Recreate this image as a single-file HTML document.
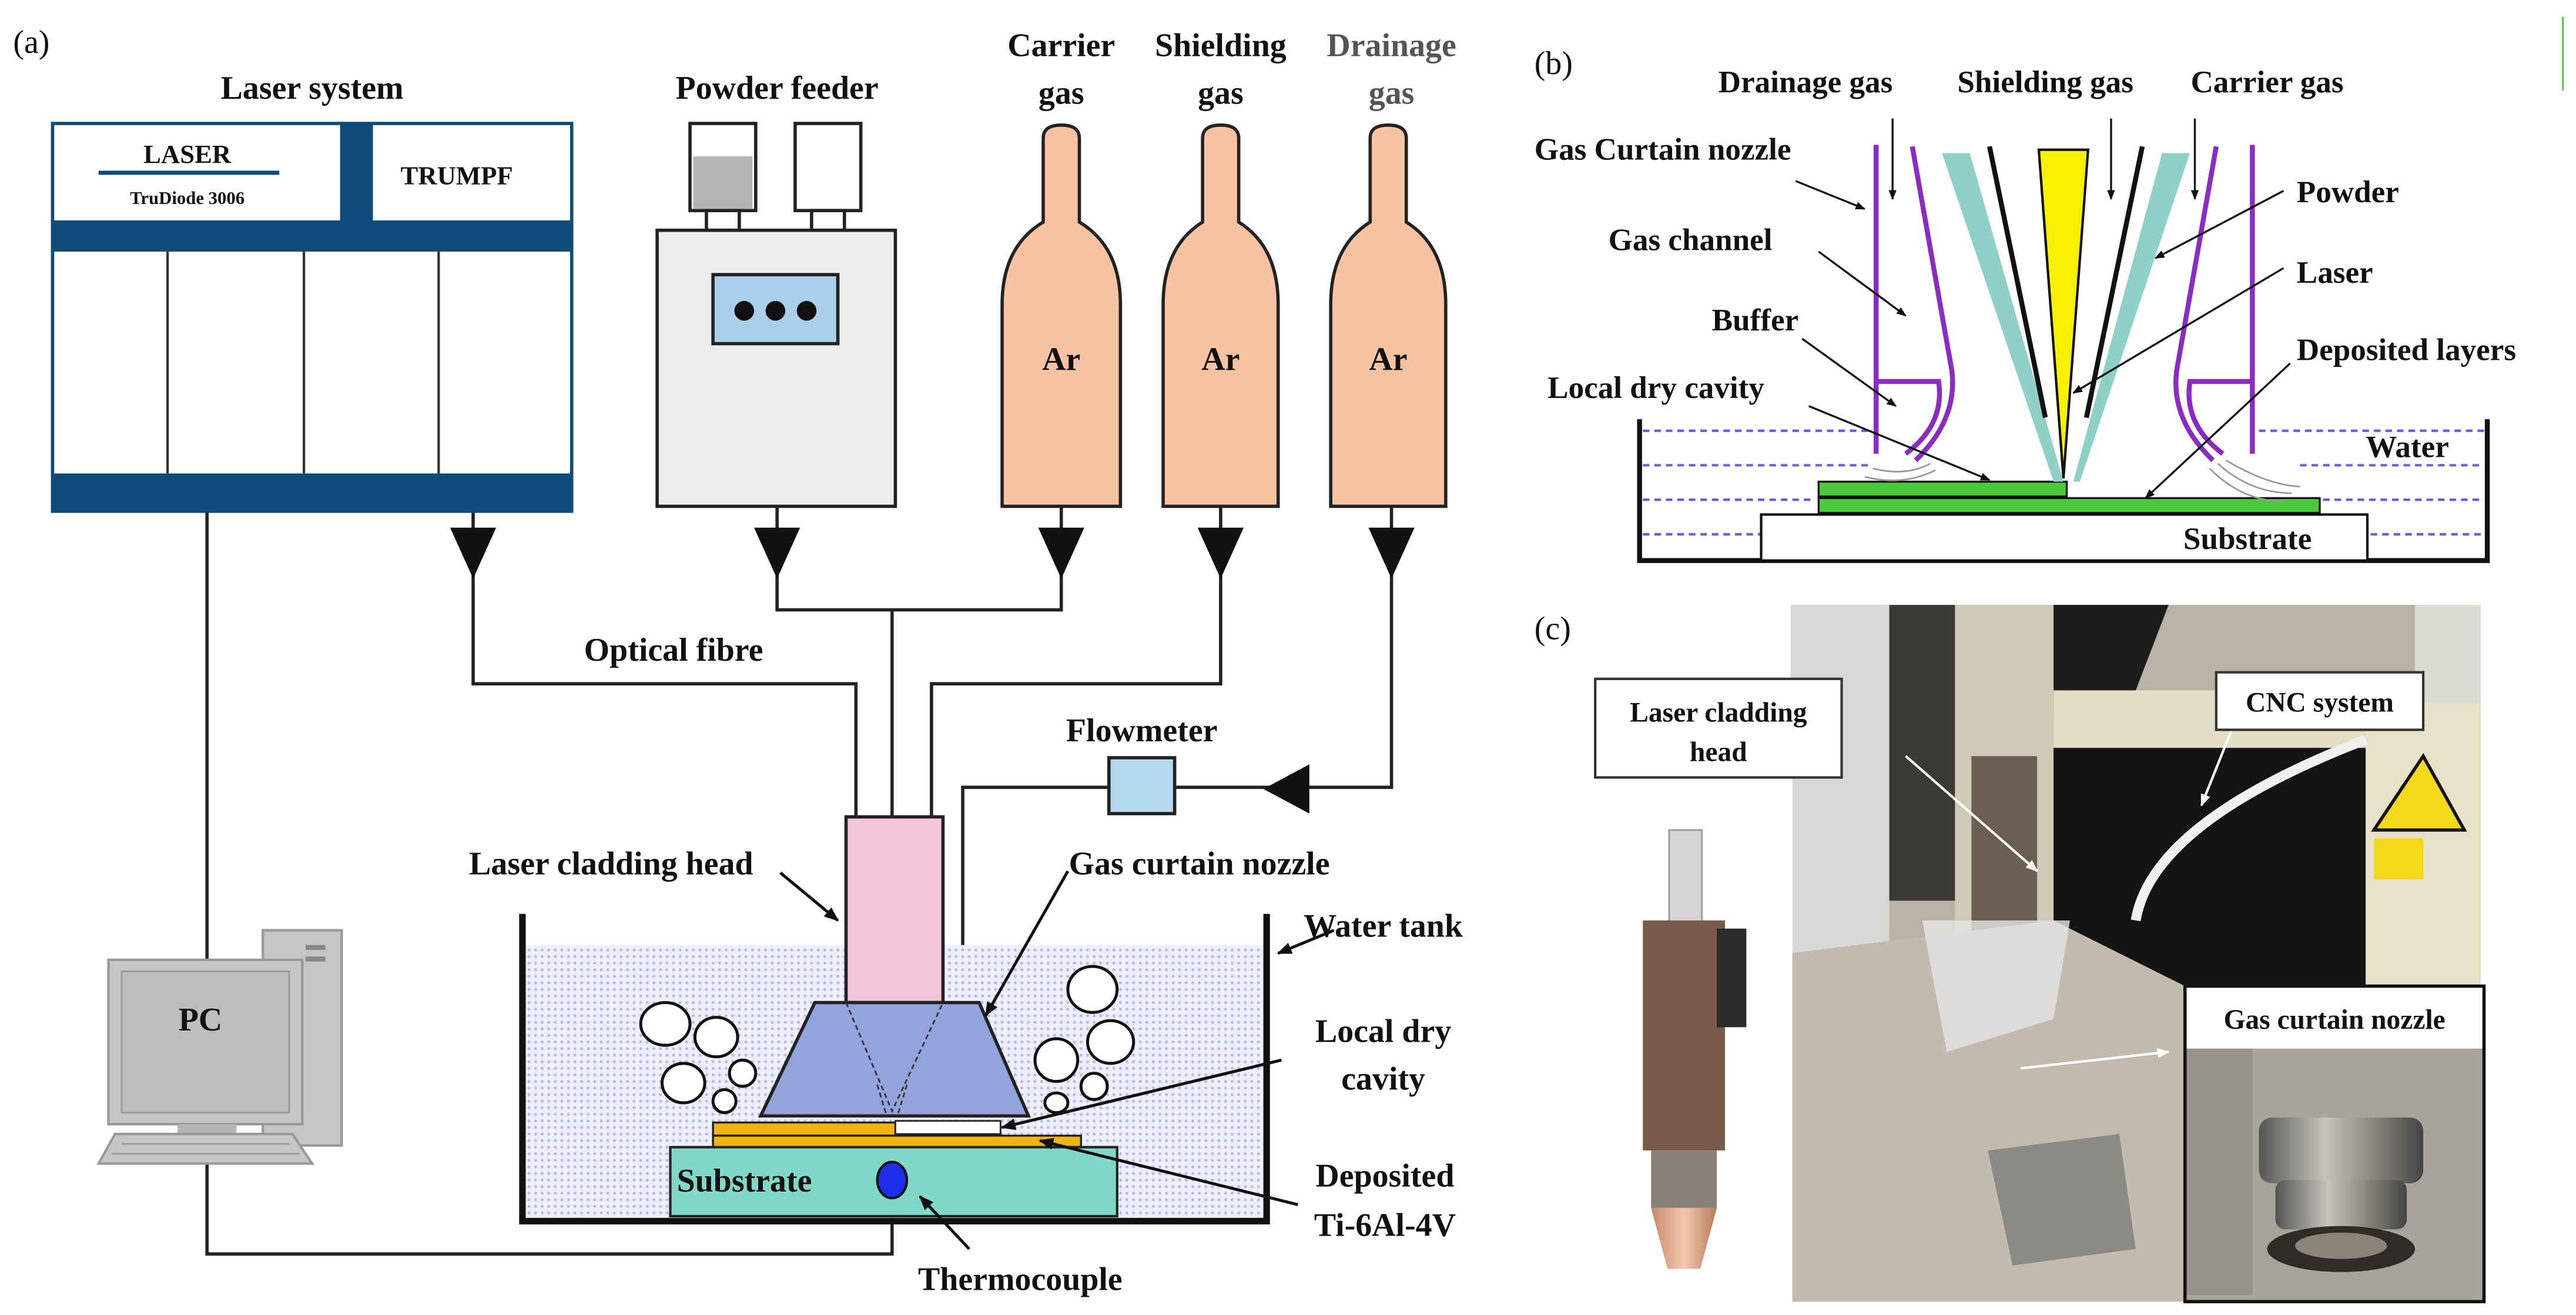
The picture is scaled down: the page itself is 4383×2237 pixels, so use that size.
<!DOCTYPE html>
<html><head><meta charset="utf-8"><style>
html,body{margin:0;padding:0;background:#fff;}
svg{display:block;}
text{font-family:"Liberation Serif",serif;font-weight:bold;fill:#111;}
</style></head><body>
<svg width="4383" height="2237" viewBox="0 0 1568 800" xmlns="http://www.w3.org/2000/svg">
<defs>
<pattern id="wd" width="4" height="4" patternUnits="userSpaceOnUse"><rect width="4" height="4" fill="#eeeefc"/><circle cx="2" cy="2" r="0.9" fill="#b8b8ee"/></pattern>
<marker id="ah" viewBox="0 0 10 10" refX="9" refY="5" markerWidth="5" markerHeight="5" orient="auto"><path d="M0,1 L10,5 L0,9 z" fill="#111"/></marker>
<marker id="aw" viewBox="0 0 10 10" refX="9" refY="5" markerWidth="5" markerHeight="5" orient="auto"><path d="M0,1 L10,5 L0,9 z" fill="#fff"/></marker>
<linearGradient id="cu" x1="0" x2="1"><stop offset="0" stop-color="#c98a6a"/><stop offset="0.5" stop-color="#f3c8b0"/><stop offset="1" stop-color="#b87a5a"/></linearGradient>
<linearGradient id="met" x1="0" x2="1"><stop offset="0" stop-color="#555"/><stop offset="0.4" stop-color="#c8c4bc"/><stop offset="0.7" stop-color="#8a867e"/><stop offset="1" stop-color="#444"/></linearGradient>
</defs>

<!-- ===== PANEL A ===== -->
<text x="8" y="32" font-size="20" style="font-weight:normal">(a)</text>
<text x="190" y="60" font-size="20" text-anchor="middle">Laser system</text>
<text x="473" y="60" font-size="20" text-anchor="middle">Powder feeder</text>
<text x="646" y="34" font-size="20" text-anchor="middle">Carrier</text>
<text x="646" y="63" font-size="20" text-anchor="middle">gas</text>
<text x="743" y="34" font-size="20" text-anchor="middle">Shielding</text>
<text x="743" y="63" font-size="20" text-anchor="middle">gas</text>
<text x="847" y="34" font-size="20" text-anchor="middle" style="fill:#555">Drainage</text>
<text x="847" y="63" font-size="20" text-anchor="middle" style="fill:#555">gas</text>

<g stroke="#222" stroke-width="2" fill="none">
<polyline points="126,311 126,763 543,763 543,718"/>
<polyline points="288,311 288,416 521,416 521,497"/>
<polyline points="473,308 473,371 646,371 646,308"/>
<polyline points="543,371 543,497"/>
<polyline points="743,308 743,416 567,416 567,497"/>
<polyline points="847,308 847,479 715,479"/>
<polyline points="675,479 586,479 586,610"/>
</g>
<g fill="#111">
<polygon points="274,321 302,321 288,352"/>
<polygon points="459,321 487,321 473,352"/>
<polygon points="632,321 660,321 646,352"/>
<polygon points="729,321 757,321 743,352"/>
<polygon points="833,321 861,321 847,352"/>
<polygon points="797,465 797,495 769,480"/>
</g>
<rect x="675" y="461" width="40" height="34" fill="#b4d8ee" stroke="#222" stroke-width="2"/>
<text x="695" y="451" font-size="20" text-anchor="middle">Flowmeter</text>
<text x="410" y="402" font-size="20" text-anchor="middle">Optical fibre</text>

<rect x="32" y="75" width="316" height="236" fill="#fff" stroke="#0f4a78" stroke-width="2"/>
<rect x="32" y="134" width="316" height="19" fill="#0f4a78"/>
<rect x="32" y="288" width="316" height="23" fill="#0f4a78"/>
<rect x="207" y="75" width="20" height="60" fill="#0f4a78"/>
<g stroke="#333" stroke-width="1.5"><line x1="102" y1="153" x2="102" y2="288"/><line x1="185" y1="153" x2="185" y2="288"/><line x1="267" y1="153" x2="267" y2="288"/></g>
<text x="114" y="99" font-size="16" text-anchor="middle">LASER</text>
<line x1="60" y1="105" x2="170" y2="105" stroke="#0f4a78" stroke-width="2.5"/>
<text x="114" y="124" font-size="11" text-anchor="middle">TruDiode 3006</text>
<text x="278" y="112" font-size="16" text-anchor="middle">TRUMPF</text>

<rect x="420" y="75" width="40" height="53" fill="#fff" stroke="#222" stroke-width="2"/>
<rect x="422" y="95" width="36" height="32" fill="#b5b5b5"/>
<rect x="484" y="75" width="40" height="53" fill="#fff" stroke="#222" stroke-width="2"/>
<rect x="430" y="128" width="20" height="12" fill="#fff" stroke="#222" stroke-width="2"/>
<rect x="494" y="128" width="20" height="12" fill="#fff" stroke="#222" stroke-width="2"/>
<rect x="400" y="140" width="145" height="168" fill="#ededed" stroke="#222" stroke-width="2"/>
<rect x="434" y="167" width="76" height="42" fill="#a9cfea" stroke="#222" stroke-width="2"/>
<circle cx="453" cy="189" r="6" fill="#111"/><circle cx="472" cy="189" r="6" fill="#111"/><circle cx="491" cy="189" r="6" fill="#111"/>

<g fill="#f8c3a3" stroke="#222" stroke-width="2">
<path d="M635,135 L635,84 Q635,76 646,76 Q657,76 657,84 L657,135 Q682,150 682,185 L682,308 L610,308 L610,185 Q610,150 635,135 Z"/>
<path d="M732,135 L732,84 Q732,76 743,76 Q754,76 754,84 L754,135 Q778,150 778,185 L778,308 L708,308 L708,185 Q708,150 732,135 Z"/>
<path d="M834,135 L834,84 Q834,76 845,76 Q856,76 856,84 L856,135 Q880,150 880,185 L880,308 L810,308 L810,185 Q810,150 834,135 Z"/>
</g>
<text x="646" y="225" font-size="20" text-anchor="middle">Ar</text>
<text x="743" y="225" font-size="20" text-anchor="middle">Ar</text>
<text x="845" y="225" font-size="20" text-anchor="middle">Ar</text>

<rect x="319" y="575" width="451" height="166" fill="url(#wd)"/>
<polyline points="318,556 318,743 771,743 771,556" fill="none" stroke="#111" stroke-width="4"/>
<rect x="515" y="497" width="59" height="113" fill="#f2c6d8" stroke="#222" stroke-width="2"/>
<polygon points="496,610 596,610 626,679 463,679" fill="#95a3dc" stroke="#222" stroke-width="2"/>
<g stroke="#333" stroke-width="1" stroke-dasharray="3,2" fill="none"><polyline points="515,610 543,676 574,610"/><line x1="534" y1="660" x2="540" y2="680"/><line x1="552" y1="660" x2="546" y2="680"/></g>
<rect x="434" y="683" width="111" height="8" fill="#f0b30f" stroke="#222" stroke-width="1.2"/>
<rect x="434" y="691" width="224" height="7" fill="#f0b30f" stroke="#222" stroke-width="1.2"/>
<rect x="545" y="682" width="64" height="8" fill="#fff" stroke="#222" stroke-width="1"/>
<rect x="408" y="698" width="272" height="42" fill="#80d8c8" stroke="#222" stroke-width="1.5"/>
<text x="412" y="725" font-size="20">Substrate</text>
<ellipse cx="543" cy="718" rx="9" ry="11" fill="#1e2ee8" stroke="#111" stroke-width="1.5"/>
<g fill="#fff" stroke="#111" stroke-width="1.8">
<ellipse cx="405" cy="623" rx="15" ry="13"/><ellipse cx="436" cy="631" rx="13" ry="12"/><ellipse cx="416" cy="659" rx="13" ry="12"/><ellipse cx="452" cy="653" rx="8" ry="8"/><ellipse cx="441" cy="670" rx="7" ry="7"/>
<ellipse cx="665" cy="602" rx="15" ry="14"/><ellipse cx="676" cy="634" rx="14" ry="13"/><ellipse cx="643" cy="645" rx="13" ry="13"/><ellipse cx="666" cy="661" rx="8" ry="8"/><ellipse cx="643" cy="671" rx="7" ry="6"/>
</g>
<g stroke="#111" stroke-width="1.8" fill="none" marker-end="url(#ah)">
<line x1="475" y1="531" x2="510" y2="560"/>
<line x1="650" y1="530" x2="600" y2="618"/>
<line x1="812" y1="566" x2="778" y2="580"/>
<line x1="780" y1="645" x2="610" y2="686"/>
<line x1="790" y1="733" x2="633" y2="694"/>
<line x1="590" y1="760" x2="560" y2="728"/>
</g>
<text x="372" y="532" font-size="20" text-anchor="middle">Laser cladding head</text>
<text x="730" y="532" font-size="20" text-anchor="middle">Gas curtain nozzle</text>
<text x="842" y="570" font-size="20" text-anchor="middle">Water tank</text>
<text x="842" y="634" font-size="20" text-anchor="middle">Local dry</text>
<text x="842" y="663" font-size="20" text-anchor="middle">cavity</text>
<text x="843" y="722" font-size="20" text-anchor="middle">Deposited</text>
<text x="843" y="752" font-size="20" text-anchor="middle">Ti-6Al-4V</text>
<text x="621" y="785" font-size="20" text-anchor="middle">Thermocouple</text>

<rect x="160" y="566" width="48" height="131" fill="#c6c6c6" stroke="#999" stroke-width="1.5"/>
<rect x="186" y="575" width="12" height="3" fill="#888"/><rect x="186" y="582" width="12" height="3" fill="#888"/>
<rect x="66" y="584" width="118" height="100" fill="#c6c6c6" stroke="#999" stroke-width="1.5"/>
<rect x="74" y="591" width="102" height="86" fill="#bdbdbd" stroke="#9a9a9a" stroke-width="1"/>
<rect x="108" y="684" width="36" height="6" fill="#b5b5b5"/>
<polygon points="70,690 178,690 190,708 60,708" fill="#c6c6c6" stroke="#999" stroke-width="1.5"/>
<g stroke="#999" stroke-width="1"><line x1="74" y1="696" x2="176" y2="696"/><line x1="68" y1="702" x2="182" y2="702"/></g>
<text x="122" y="627" font-size="20" text-anchor="middle">PC</text>

<!-- ===== PANEL B ===== -->
<text x="934" y="45" font-size="20" style="font-weight:normal">(b)</text>
<line x1="1560" y1="10" x2="1560" y2="55" stroke="#2ad42a" stroke-width="1"/>
<g stroke="#6060e0" stroke-width="1.5" stroke-dasharray="4,3">
<line x1="1000" y1="262" x2="1140" y2="262"/><line x1="1000" y1="283" x2="1140" y2="283"/><line x1="1000" y1="304" x2="1105" y2="304"/><line x1="1000" y1="325" x2="1072" y2="325"/>
<line x1="1375" y1="262" x2="1512" y2="262"/><line x1="1400" y1="283" x2="1512" y2="283"/><line x1="1414" y1="304" x2="1512" y2="304"/><line x1="1443" y1="325" x2="1512" y2="325"/>
</g>
<polyline points="998,255 998,341 1514,341 1514,255" fill="none" stroke="#111" stroke-width="3"/>
<rect x="1072" y="313" width="369" height="28" fill="#fff" stroke="#111" stroke-width="1.5"/>
<rect x="1107" y="303" width="305" height="9" fill="#4cc83c" stroke="#111" stroke-width="1.2"/>
<rect x="1107" y="293" width="151" height="9" fill="#4cc83c" stroke="#111" stroke-width="1.2"/>
<polygon points="1182,93 1199,93 1256,293 1250,293" fill="#8fd0c8"/>
<polygon points="1333,93 1316,93 1262,293 1266,293" fill="#8fd0c8"/>
<line x1="1211" y1="89" x2="1245" y2="254" stroke="#111" stroke-width="3"/>
<line x1="1304" y1="89" x2="1270" y2="254" stroke="#111" stroke-width="3"/>
<polygon points="1241,91 1271,91 1256,291" fill="#f7f000" stroke="#111" stroke-width="1.5"/>
<g stroke="#8a2cc0" stroke-width="3" fill="none">
<line x1="1142" y1="88" x2="1142" y2="276"/>
<path d="M1164,89 L1188,225 Q1192,255 1166,280"/>
<path d="M1142,232 L1180,232 Q1184,258 1160,276"/>
<line x1="1371" y1="88" x2="1371" y2="276"/>
<path d="M1349,89 L1325,225 Q1321,255 1347,280"/>
<path d="M1371,232 L1333,232 Q1329,258 1353,276"/>
</g>
<g stroke="#999" stroke-width="1" fill="none"><path d="M1140,285 Q1160,290 1175,282"/><path d="M1135,290 Q1158,296 1178,286"/><path d="M1350,282 Q1370,300 1395,300"/><path d="M1345,285 Q1365,305 1390,305"/><path d="M1355,280 Q1380,295 1400,296"/></g>
<g stroke="#111" stroke-width="1.2" fill="none" marker-end="url(#ah)">
<line x1="1152" y1="72" x2="1152" y2="121"/><line x1="1285" y1="72" x2="1285" y2="121"/><line x1="1336" y1="72" x2="1336" y2="121"/>
<line x1="1093" y1="110" x2="1135" y2="127"/><line x1="1107" y1="153" x2="1160" y2="192"/><line x1="1097" y1="206" x2="1154" y2="247"/><line x1="1101" y1="247" x2="1211" y2="292"/>
<line x1="1390" y1="116" x2="1312" y2="157"/><line x1="1390" y1="163" x2="1262" y2="239"/><line x1="1394" y1="221" x2="1306" y2="303"/>
</g>
<text x="1099" y="56" font-size="19" text-anchor="middle">Drainage gas</text>
<text x="1245" y="56" font-size="19" text-anchor="middle">Shielding gas</text>
<text x="1380" y="56" font-size="19" text-anchor="middle">Carrier gas</text>
<text x="934" y="97" font-size="19">Gas Curtain nozzle</text>
<text x="979" y="152" font-size="19">Gas channel</text>
<text x="1042" y="201" font-size="19">Buffer</text>
<text x="942" y="242" font-size="19">Local dry cavity</text>
<text x="1398" y="123" font-size="19">Powder</text>
<text x="1398" y="172" font-size="19">Laser</text>
<text x="1398" y="219" font-size="19">Deposited layers</text>
<text x="1440" y="278" font-size="19">Water</text>
<text x="1329" y="334" font-size="19">Substrate</text>

<!-- ===== PANEL C ===== -->
<text x="934" y="389" font-size="20" style="font-weight:normal">(c)</text>
<rect x="1090" y="368" width="420" height="424" fill="#b9b2a6"/>
<rect x="1090" y="368" width="60" height="300" fill="#d8d8d6"/>
<rect x="1150" y="368" width="40" height="180" fill="#3a3a36"/>
<rect x="1190" y="368" width="60" height="250" fill="#cfc9b5"/>
<polygon points="1250,368 1320,368 1300,420 1250,440" fill="#1c1c1c"/>
<rect x="1250" y="420" width="200" height="35" fill="#e3ddc6"/>
<rect x="1250" y="455" width="190" height="150" fill="#141414"/>
<rect x="1440" y="420" width="70" height="180" fill="#e8e2c8"/>
<polygon points="1445,505 1475,460 1500,505" fill="#f4d81a" stroke="#111" stroke-width="2"/>
<rect x="1445" y="510" width="30" height="25" fill="#f4d81a"/>
<rect x="1470" y="368" width="40" height="60" fill="#dcdcd4"/>
<rect x="1200" y="460" width="40" height="130" fill="#6b5e52"/>
<polygon points="1090,580 1250,560 1330,600 1330,792 1090,792" fill="#c1bbb0"/>
<polygon points="1170,560 1260,560 1250,620 1185,640" fill="#e6e6e6" opacity="0.8"/>
<polygon points="1210,700 1290,690 1300,760 1225,770" fill="#8c8a84"/>
<path d="M1300,560 Q1310,500 1440,450" stroke="#f0f0f0" stroke-width="6" fill="none"/>
<line x1="1160" y1="460" x2="1240" y2="530" stroke="#fff" stroke-width="1.5" marker-end="url(#aw)"/>
<line x1="1360" y1="440" x2="1340" y2="490" stroke="#fff" stroke-width="1.5" marker-end="url(#aw)"/>
<line x1="1230" y1="650" x2="1320" y2="640" stroke="#fff" stroke-width="1.5" marker-end="url(#aw)"/>
<rect x="971" y="473" width="120" height="319" fill="#fff"/>
<rect x="1016" y="505" width="20" height="60" fill="#d6d6d6" stroke="#999"/>
<rect x="1000" y="560" width="50" height="140" fill="#7a5a48"/>
<rect x="1045" y="565" width="18" height="60" fill="#2a2a2a"/>
<rect x="1005" y="700" width="40" height="35" fill="#8a8278"/>
<polygon points="1005,735 1045,735 1035,772 1015,772" fill="url(#cu)"/>
<rect x="971" y="413" width="150" height="60" fill="#fff" stroke="#333" stroke-width="1.5"/>
<text x="1046" y="439" font-size="17" text-anchor="middle">Laser cladding</text>
<text x="1046" y="463" font-size="17" text-anchor="middle">head</text>
<rect x="1349" y="409" width="126" height="35" fill="#fff" stroke="#333" stroke-width="1.5"/>
<text x="1412" y="433" font-size="17" text-anchor="middle">CNC system</text>
<rect x="1330" y="600" width="182" height="192" fill="#a8a49a" stroke="#111" stroke-width="2"/>
<rect x="1331" y="601" width="180" height="37" fill="#fff"/>
<text x="1421" y="626" font-size="17" text-anchor="middle">Gas curtain nozzle</text>
<rect x="1375" y="680" width="100" height="40" rx="8" fill="url(#met)"/>
<rect x="1385" y="718" width="80" height="30" rx="6" fill="url(#met)"/>
<ellipse cx="1425" cy="760" rx="45" ry="14" fill="#2f2c28"/>
<ellipse cx="1425" cy="758" rx="28" ry="8" fill="#8a8478"/>
<rect x="1331" y="638" width="40" height="150" fill="#8e8a82" opacity="0.6"/>
</svg>
</body></html>
